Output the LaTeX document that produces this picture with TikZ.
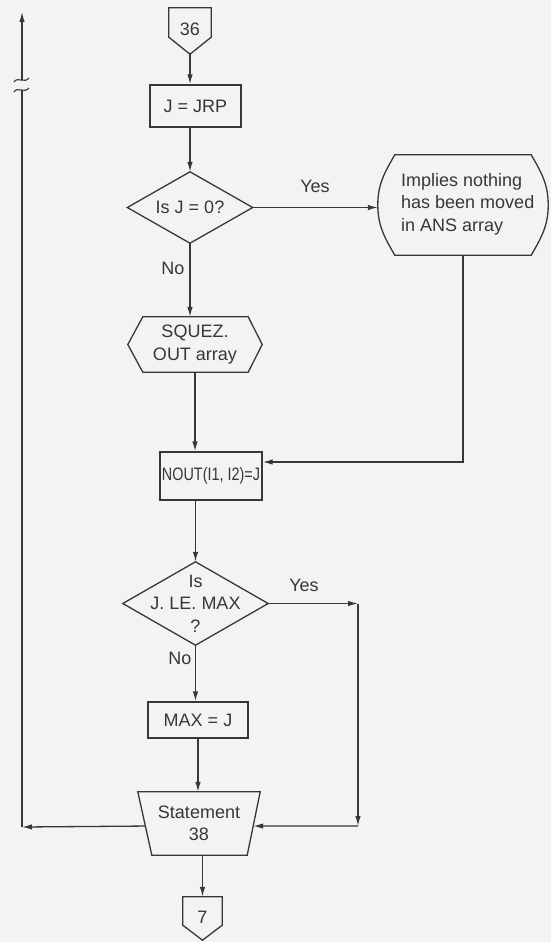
\documentclass[tikz,border=0pt]{standalone}
\usepackage{fontspec}
\setmainfont{Liberation Sans}
\usetikzlibrary{arrows.meta,calc}
\definecolor{ink}{RGB}{55,55,55}
\definecolor{paper}{RGB}{243,243,241}
\begin{document}
\begin{tikzpicture}[x=1pt,y=1pt,
  font=\fontsize{18}{22.5}\selectfont, text=ink,
  ln/.style={draw=ink, line width=1.3pt, line join=miter},
  arr/.style={ln, -{Latex[length=10pt,width=5.5pt]}},
  boxnode/.style={draw=ink, line width=1.3pt, inner sep=0pt, align=center},
  ghost/.style={inner sep=0pt, align=center},
  lab/.style={inner sep=0pt}]
\fill[paper] (0,0) rectangle (551,-942);
\useasboundingbox (0,0) rectangle (551,-942);

% nodes
\node[ghost, minimum width=42pt, minimum height=46pt] (c36) at (190,-31) {\raisebox{4pt}{36}};
\draw[ln] (c36.north west) -- (c36.north east) -- ($(c36.south east)+(0,17)$) -- (c36.south) -- ($(c36.south west)+(0,17)$) -- cycle;

\node[boxnode, minimum width=91pt, minimum height=42pt] (jrp) at (195.5,-106) {J = JRP};

\node[ghost, minimum width=125pt, minimum height=71pt] (d1) at (190,-207.5) {Is J = 0?};
\draw[ln] (d1.north) -- (d1.east) -- (d1.south) -- (d1.west) -- cycle;

\node[ghost, minimum width=170pt, minimum height=100pt] (rb) at (463,-205) {};
\draw[ln] ($(rb.north west)+(17,0)$) -- ($(rb.north east)+(-17,0)$)
  to[out=-60,in=90] (rb.east) to[out=-90,in=60] ($(rb.south east)+(-17,0)$)
  -- ($(rb.south west)+(17,0)$) to[out=120,in=-90] (rb.west)
  to[out=90,in=-120] ($(rb.north west)+(17,0)$) -- cycle;
\node[ghost, align=left, anchor=west] (rbtext) at (401,-204) {Implies nothing\\has been moved\\in ANS array};

\node[ghost, minimum width=134pt, minimum height=55pt] (hex) at (195,-344.5) {SQUEZ.\\OUT array};
\draw[ln] ($(hex.north west)+(15,0)$) -- ($(hex.north east)+(-14,0)$) -- (hex.east)
  -- ($(hex.south east)+(-14,0)$) -- ($(hex.south west)+(15,0)$) -- (hex.west) -- cycle;

\node[boxnode, minimum width=102pt, minimum height=48pt] (nout) at (211,-476) {\scalebox{0.8}[1]{NOUT(I1, I2)=J}};

\node[ghost, minimum width=145pt, minimum height=83pt] (d2) at (195.5,-603.5) {Is\\J. LE. MAX\\?};
\draw[ln] (d2.north) -- (d2.east) -- (d2.south) -- (d2.west) -- cycle;

\node[boxnode, minimum width=100pt, minimum height=36pt] (maxj) at (198,-720) {MAX = J};

\node[ghost, minimum width=122pt, minimum height=63pt] (st) at (199,-823.5) {Statement\\38};
\coordinate (stBR) at ($(st.south east)+(-13,0)$);
\coordinate (stBL) at ($(st.south west)+(14,0)$);
\draw[ln] (st.north west) -- (st.north east) -- (stBR) -- (stBL) -- cycle;
\coordinate (stR) at ($(st.north east)!0.54!(stBR)$);
\coordinate (stL) at ($(st.north west)!0.54!(stBL)$);

\node[ghost, minimum width=39pt, minimum height=43pt] (c7) at (202.5,-918.5) {\raisebox{3pt}{7}};
\draw[ln] (c7.north west) -- (c7.north east) -- ($(c7.south east)+(0,15)$) -- (c7.south) -- ($(c7.south west)+(0,15)$) -- cycle;

% labels
\node[lab] (yes1) at (315,-186) {Yes};
\node[lab] (no1) at (173,-268) {No};
\node[lab] (yes2) at (304,-585) {Yes};
\node[lab] (no2) at (180,-658) {No};

% connectors
\draw[arr] (c36.south) -- (c36.south |- jrp.north);
\draw[arr] (d1.north |- jrp.south) -- (d1.north);
\draw[arr] (d1.east) -- (d1.east -| rb.west);
\draw[arr] (d1.south) -- (d1.south |- hex.north);
\draw[arr] (hex.south) -- (hex.south |- nout.north);
\draw[arr] (rb.south) |- ($(nout.east)+(0,14)$);
\draw[arr] (d2.north |- nout.south) -- (d2.north);
\draw[arr] (d2.south) -- (d2.south |- maxj.north);
\draw[arr] (maxj.south) -- (maxj.south |- st.north);
\draw[arr] (c7.north |- st.south) -- (c7.north);

% Yes branch of second decision
\coordinate (rc) at (358,-826);
\draw[arr] (d2.east) -- (d2.east -| rc);
\draw[arr] (d2.east -| rc) -- (rc);
\draw[arr] (rc) -- (stR);

% loop back on the left
\coordinate (lc) at (22,-827);
\coordinate (lt) at (22,-12);
\coordinate (brk) at (22,-85);
\draw[arr] (stL) -- (lc);
\draw[ln] (lc) -- ($(brk)+(0,-5)$);
\draw[arr] ($(brk)+(0,5)$) -- (lt);
\draw[ln, line width=1.1pt] ($(brk)+(-8,3)$) .. controls ($(brk)+(-4,9)$) and ($(brk)+(2,1)$) .. ($(brk)+(7,7)$);
\draw[ln, line width=1.1pt] ($(brk)+(-8,-7)$) .. controls ($(brk)+(-4,-1)$) and ($(brk)+(2,-9)$) .. ($(brk)+(7,-3)$);
\end{tikzpicture}
\end{document}
